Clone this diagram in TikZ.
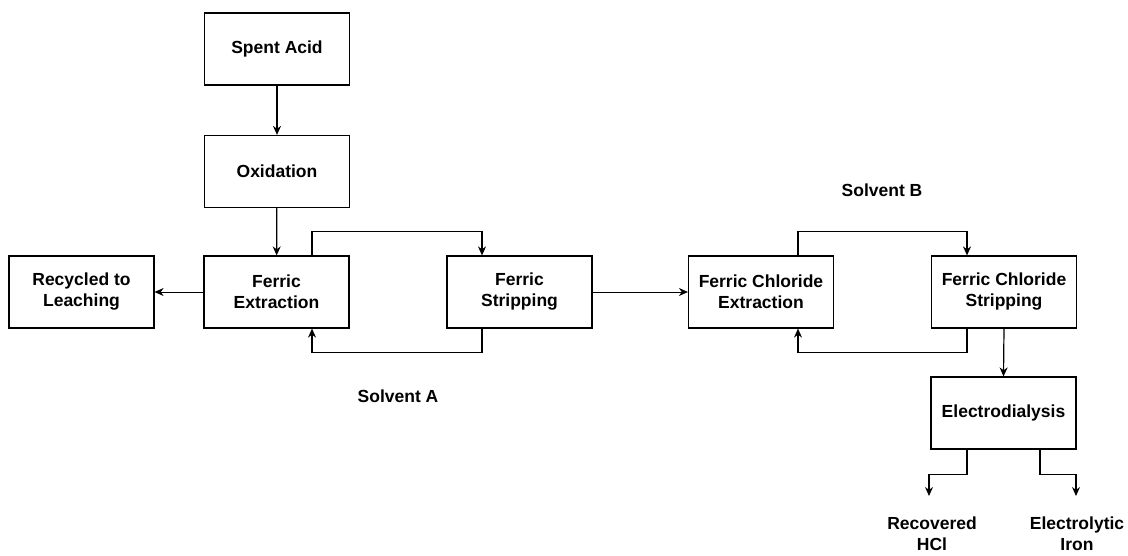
\documentclass[tikz,border=0pt]{standalone}
\usepackage{fontspec}
\setmainfont{Liberation Sans}
\usetikzlibrary{arrows.meta,calc}
\begin{document}
\begin{tikzpicture}[x=1pt,y=-1pt,
  box/.style={draw,line width=1.2pt,minimum width=145pt,minimum height=72pt,align=center,inner sep=2pt,
    font=\fontsize{17.5}{21}\selectfont\bfseries},
  lbl/.style={align=center,inner sep=0pt,font=\fontsize{17.5}{21}\selectfont\bfseries},
  conn/.style={line width=1.2pt,-{Stealth[length=9pt,width=8pt]}},
  thin/.style={line width=0.7pt,-{Stealth[length=9pt,width=8pt]}}]
\useasboundingbox (0,0) rectangle (1128,555);
\node[box] (sa) at (277,49) {Spent Acid};
\node[box] (ox) at (277,171.5) {Oxidation};
\node[box] (fe) at (276.5,292) {Ferric\\Extraction};
\node[box] (rec) at (81.5,292) {Recycled to\\Leaching};
\node[box] (fs) at (519.5,292) {Ferric\\Stripping};
\node[box] (fce) at (761,292) {Ferric Chloride\\Extraction};
\node[box] (fcs) at (1004,292) {Ferric Chloride\\Stripping};
\node[box] (ed) at (1003.5,413) {Electrodialysis};
\node[lbl] (sola) at (398,396) {Solvent A};
\node[lbl] (solb) at (882,190) {Solvent B};
\node[lbl] (hcl) at (932,534) {Recovered\\HCl};
\node[lbl] (iron) at (1077,534) {Electrolytic\\Iron};
\coordinate (hclend) at (929,496);
\coordinate (ironend) at (1076,496);
\draw[conn] (sa) -- (ox);
\draw[conn] (ox) -- (fe);
\draw[thin] (fe.west) -- (rec.east);
\draw[conn] ([xshift=35.5pt]fe.north) -- ++(0,-24) -| ([xshift=-37.5pt]fs.north);
\draw[conn] ([xshift=-37.5pt]fs.south) -- ++(0,24) -| ([xshift=35.5pt]fe.south);
\draw[thin] (fs.east) -- (fce.west);
\draw[conn] ([xshift=37pt]fce.north) -- ++(0,-24) -| ([xshift=-37pt]fcs.north);
\draw[conn] ([xshift=-37pt]fcs.south) -- ++(0,24) -| ([xshift=37pt]fce.south);
\draw[conn] (fcs.south) -- (ed.north);
\draw[conn] ([xshift=-36.5pt]ed.south) -- ++(0,25) -| (hclend);
\draw[conn] ([xshift=36.5pt]ed.south) -- ++(0,25) -| (ironend);
\end{tikzpicture}
\end{document}
